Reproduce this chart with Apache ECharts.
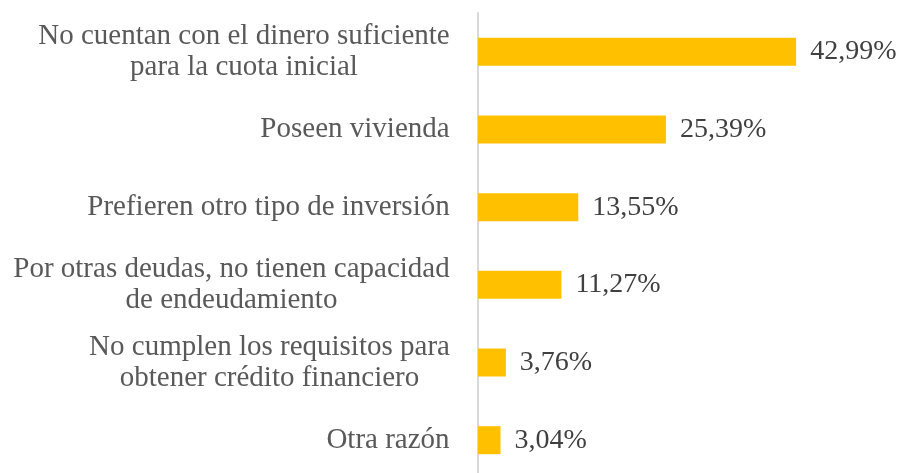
<!DOCTYPE html>
<html>
<head>
<meta charset="utf-8">
<script src="https://cdn.jsdelivr.net/npm/echarts@6/dist/echarts.min.js"></script>
<style>
  html, body { margin: 0; padding: 0; background: #fff; }
  #chart { width: 902px; height: 473px; }
</style>
</head>
<body>
<div id="chart"></div>
<script>
// categorias (de arriba hacia abajo)
const categories = [
  "No cuentan con el dinero suficiente\npara la cuota inicial",
  "Poseen vivienda",
  "Prefieren otro tipo de inversión",
  "Por otras deudas, no tienen capacidad\nde endeudamiento",
  "No cumplen los requisitos para\nobtener crédito financiero",
  "Otra razón"
];
const values = [42.99, 25.39, 13.55, 11.27, 3.76, 3.04];

const FONT = "'Liberation Serif', 'Times New Roman', serif";

// medir el ancho de cada etiqueta para centrar las lineas
const ctx = document.createElement("canvas").getContext("2d");
ctx.font = "29px " + FONT;
const rich = {};
categories.forEach((c, i) => {
  const w = Math.max(...c.split("\n").map((l) => ctx.measureText(l).width));
  rich["r" + i] = {
    width: Math.ceil(w),
    align: "center",
    fontFamily: FONT,
    fontSize: 29,
    color: "#595959",
    lineHeight: 31,
  };
});

const myChart = echarts.init(document.getElementById("chart"));

const option = {
  animation: false,
  grid: { left: 478, top: 13, width: 370, height: 466, outerBoundsMode: "none" },
  xAxis: {
    type: "value",
    min: 0,
    max: 50,
    show: false,
  },
  yAxis: {
    type: "category",
    inverse: true,
    data: categories,
    axisTick: { show: false },
    axisLine: { lineStyle: { color: "#d9d9d9", width: 2 } },
    axisLabel: {
      margin: 28,
      formatter: function (value, idx) {
        return value
          .split("\n")
          .map((l) => "{r" + idx + "|" + l + "}")
          .join("\n");
      },
      rich: rich,
    },
  },
  series: [
    {
      type: "bar",
      data: values,
      barWidth: 28,
      itemStyle: { color: "#FFC000" },
      label: {
        show: true,
        position: "right",
        distance: 14,
        fontFamily: FONT,
        fontSize: 28,
        color: "#404040",
        formatter: (p) => p.value.toFixed(2).replace(".", ",") + "%",
      },
    },
  ],
};

myChart.setOption(option);
</script>
</body>
</html>
